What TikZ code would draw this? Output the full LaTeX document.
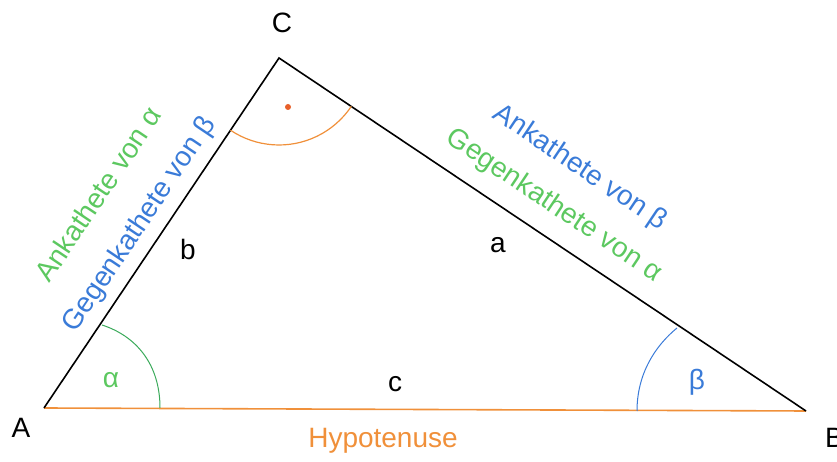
\documentclass[tikz,border=0pt]{standalone}
\usepackage{fontspec}
\setmainfont{Liberation Sans}
\definecolor{tgreen}{HTML}{5CC860}
\definecolor{agreen}{HTML}{3AAA5A}
\definecolor{tblue}{HTML}{3A7BD8}
\definecolor{torange}{HTML}{F0903A}
\definecolor{dotred}{HTML}{E8602A}
\begin{document}
\begin{tikzpicture}[x=1pt,y=1pt,
  lbl/.style={inner sep=0pt,anchor=base,font=\fontsize{28}{32}\selectfont},
  slab/.style={inner sep=0pt,font=\fontsize{28}{32}\selectfont},
  side/.style={line width=1.6pt,black},
  hyp/.style={line width=1.6pt,torange}]
\useasboundingbox (0,0) rectangle (837,462);
\coordinate (A) at (44,54);
\coordinate (B) at (806,51);
\coordinate (C) at (279,404);
% sides
\draw[hyp] (A) -- (B);
\draw[side] (A) -- (C) -- (B);
% angle arcs
\draw[agreen,line width=1pt] (160,54) .. controls (160,98) and (136,126) .. (102,137);
\draw[tblue,line width=1pt] (637,51) .. controls (637,88) and (655,116) .. (677,134);
\draw[torange,line width=1.2pt] ([shift={(236.1:87)}]C) arc[start angle=236.1,end angle=326.2,radius=87];
\fill[dotred] (288,355) circle (3);
% vertex labels
\node[lbl] (nA) at (21,24) {A};
\node[lbl,anchor=base west] (nB) at (825,14) {B};
\node[lbl] (nC) at (282,429) {C};
% side labels
\node[lbl] (nb) at (188,202) {b};
\node[lbl] (na) at (498,209) {a};
\node[lbl] (nc) at (395,70) {c};
\node[lbl,text=torange] (nh) at (383,14) {Hypotenuse};
% angle labels
\node[lbl,text=tgreen] (nal) at (111,74) {α};
\node[lbl,text=tblue] (nbe) at (697,72) {β};
% leg labels
\node[slab,text=tgreen,rotate=56.1] (t1) at (98,268) {Ankathete von α};
\node[slab,text=tblue,rotate=56.1] (t2) at (140,237) {Gegenkathete von β};
\node[slab,text=tblue,rotate=-33.8] (t3) at (580,294) {Ankathete von β};
\node[slab,text=tgreen,rotate=-33.8] (t4) at (554,256) {Gegenkathete von α};
\end{tikzpicture}
\end{document}
